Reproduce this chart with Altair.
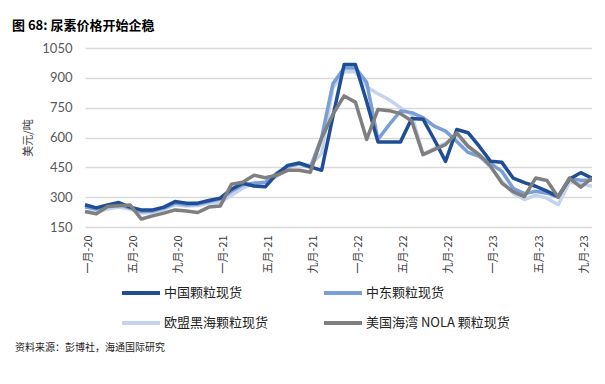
import json
import altair as alt
import pandas as pd

# month index 0..45 (monthly observations)
month_idx = list(range(46))

china = [262, 246, 261, 273, 250, 236, 236, 250, 278, 270, 270, 283, 295, 340, 370, 356,
         352, 415, 460, 472, 452, 435, 705, 967, 967, 780, 578, 578, 578, 695, 692, 590,
         480, 640, 624, 555, 480, 475, 396, 373, 355, 330, 303, 391, 423, 396]
mideast = [250, 240, 255, 265, 245, 228, 230, 245, 270, 262, 265, 278, 290, 330, 362, 370,
           375, 420, 455, 468, 450, 600, 870, 950, 950, 877, 590, 665, 733, 725, 700, 657,
           632, 580, 525, 505, 470, 430, 345, 318, 330, 320, 300, 395, 385, 385]
europe = [225, 225, 240, 250, 240, 220, 222, 238, 262, 255, 258, 270, 275, 310, 345, 370,
          375, 405, 445, 470, 460, 520, 850, 930, 930, 855, 820, 790, 750, 715, 515, 545,
          572, 612, 555, 505, 450, 380, 320, 288, 310, 295, 262, 375, 368, 355]
nola = [228, 216, 253, 257, 261, 190, 206, 220, 236, 230, 223, 250, 255, 365, 375, 410,
        398, 410, 435, 435, 425, 598, 716, 809, 778, 590, 741, 735, 720, 683, 514, 539,
        564, 623, 556, 514, 455, 371, 328, 303, 396, 384, 300, 396, 350, 396]

series_names = ["中国颗粒现货", "中东颗粒现货", "欧盟黑海颗粒现货", "美国海湾 NOLA 颗粒现货"]
series_colors = ["#1F4E96", "#7A9ED6", "#C5D4EE", "#7F7F7F"]

x_tick_values = [0.3 + 4 * k for k in range(12)]
x_tick_labels = ["一月-20", "五月-20", "九月-20", "一月-21", "五月-21", "九月-21",
                 "一月-22", "五月-22", "九月-22", "一月-23", "五月-23", "九月-23"]
y_ticks = [150, 300, 450, 600, 750, 900, 1050]

title_text = "图 68:  尿素价格开始企稳"
source_text = "资料来源：彭博社，海通国际研究"

# draw order: lightest first, gray last
draw_order = [(series_names[2], europe), (series_names[1], mideast),
              (series_names[0], china), (series_names[3], nola)]
rows = []
for name, vals in draw_order:
    for i, v in zip(month_idx, vals):
        rows.append({"i": i, "v": v, "s": name})
df = pd.DataFrame(rows)

label_expr = json.dumps(x_tick_labels, ensure_ascii=False) + "[round((datum.value - 0.3) / 4)]"

lines = alt.Chart(df).mark_line(strokeWidth=3.5, strokeJoin="round").encode(
    x=alt.X("i:Q",
            scale=alt.Scale(domain=[0, 45], nice=False, zero=False),
            axis=alt.Axis(values=x_tick_values, labelExpr=label_expr, labelAngle=-90,
                          grid=False, ticks=False, domain=False, labelPadding=8,
                          labelFont="Noto Sans CJK SC", labelFontSize=11,
                          labelColor="#404040", title=None)),
    y=alt.Y("v:Q",
            scale=alt.Scale(domain=[150, 1050], nice=False, zero=False),
            axis=alt.Axis(values=y_ticks, format="d", grid=True, gridColor="#D9D9D9",
                          gridWidth=1.5, ticks=False, domain=False, labelFont="Lato",
                          labelFontSize=13, labelColor="#595959", labelPadding=13,
                          title="美元/吨", titleFont="Noto Sans CJK SC", titleFontSize=11,
                          titleFontWeight="normal", titleColor="#404040", titlePadding=8)),
    color=alt.Color("s:N",
                    scale=alt.Scale(domain=series_names, range=series_colors),
                    legend=alt.Legend(orient="none", legendX=35, legendY=237, columns=2,
                                      direction="horizontal",
                                      symbolType="stroke", symbolSize=1444,
                                      symbolStrokeWidth=4, labelFont="Noto Sans CJK SC",
                                      labelFontSize=13, labelColor="#222222", title=None,
                                      clipHeight=16, columnPadding=53, rowPadding=14,
                                      padding=0, labelOffset=2)),
)

source = alt.Chart(pd.DataFrame({"t": [source_text]})).mark_text(
    align="left", baseline="middle", font="Noto Sans CJK SC", fontSize=10, color="#222222"
).encode(text="t:N", x=alt.value(-70), y=alt.value(300))

chart = alt.layer(lines, source).properties(
    width=507, height=179,
    autosize=alt.AutoSizeParams(type="none"),
    padding={"left": 77, "top": 40, "right": 0, "bottom": 138},
    title=alt.TitleParams(text=title_text, anchor="start", frame="group", dx=-73,
                          offset=9, font="Noto Sans CJK SC", fontSize=13,
                          fontWeight="bold", color="#000000"),
).configure_view(stroke=None)

chart.save("out.html", embed_options={"renderer": "svg", "actions": False})
